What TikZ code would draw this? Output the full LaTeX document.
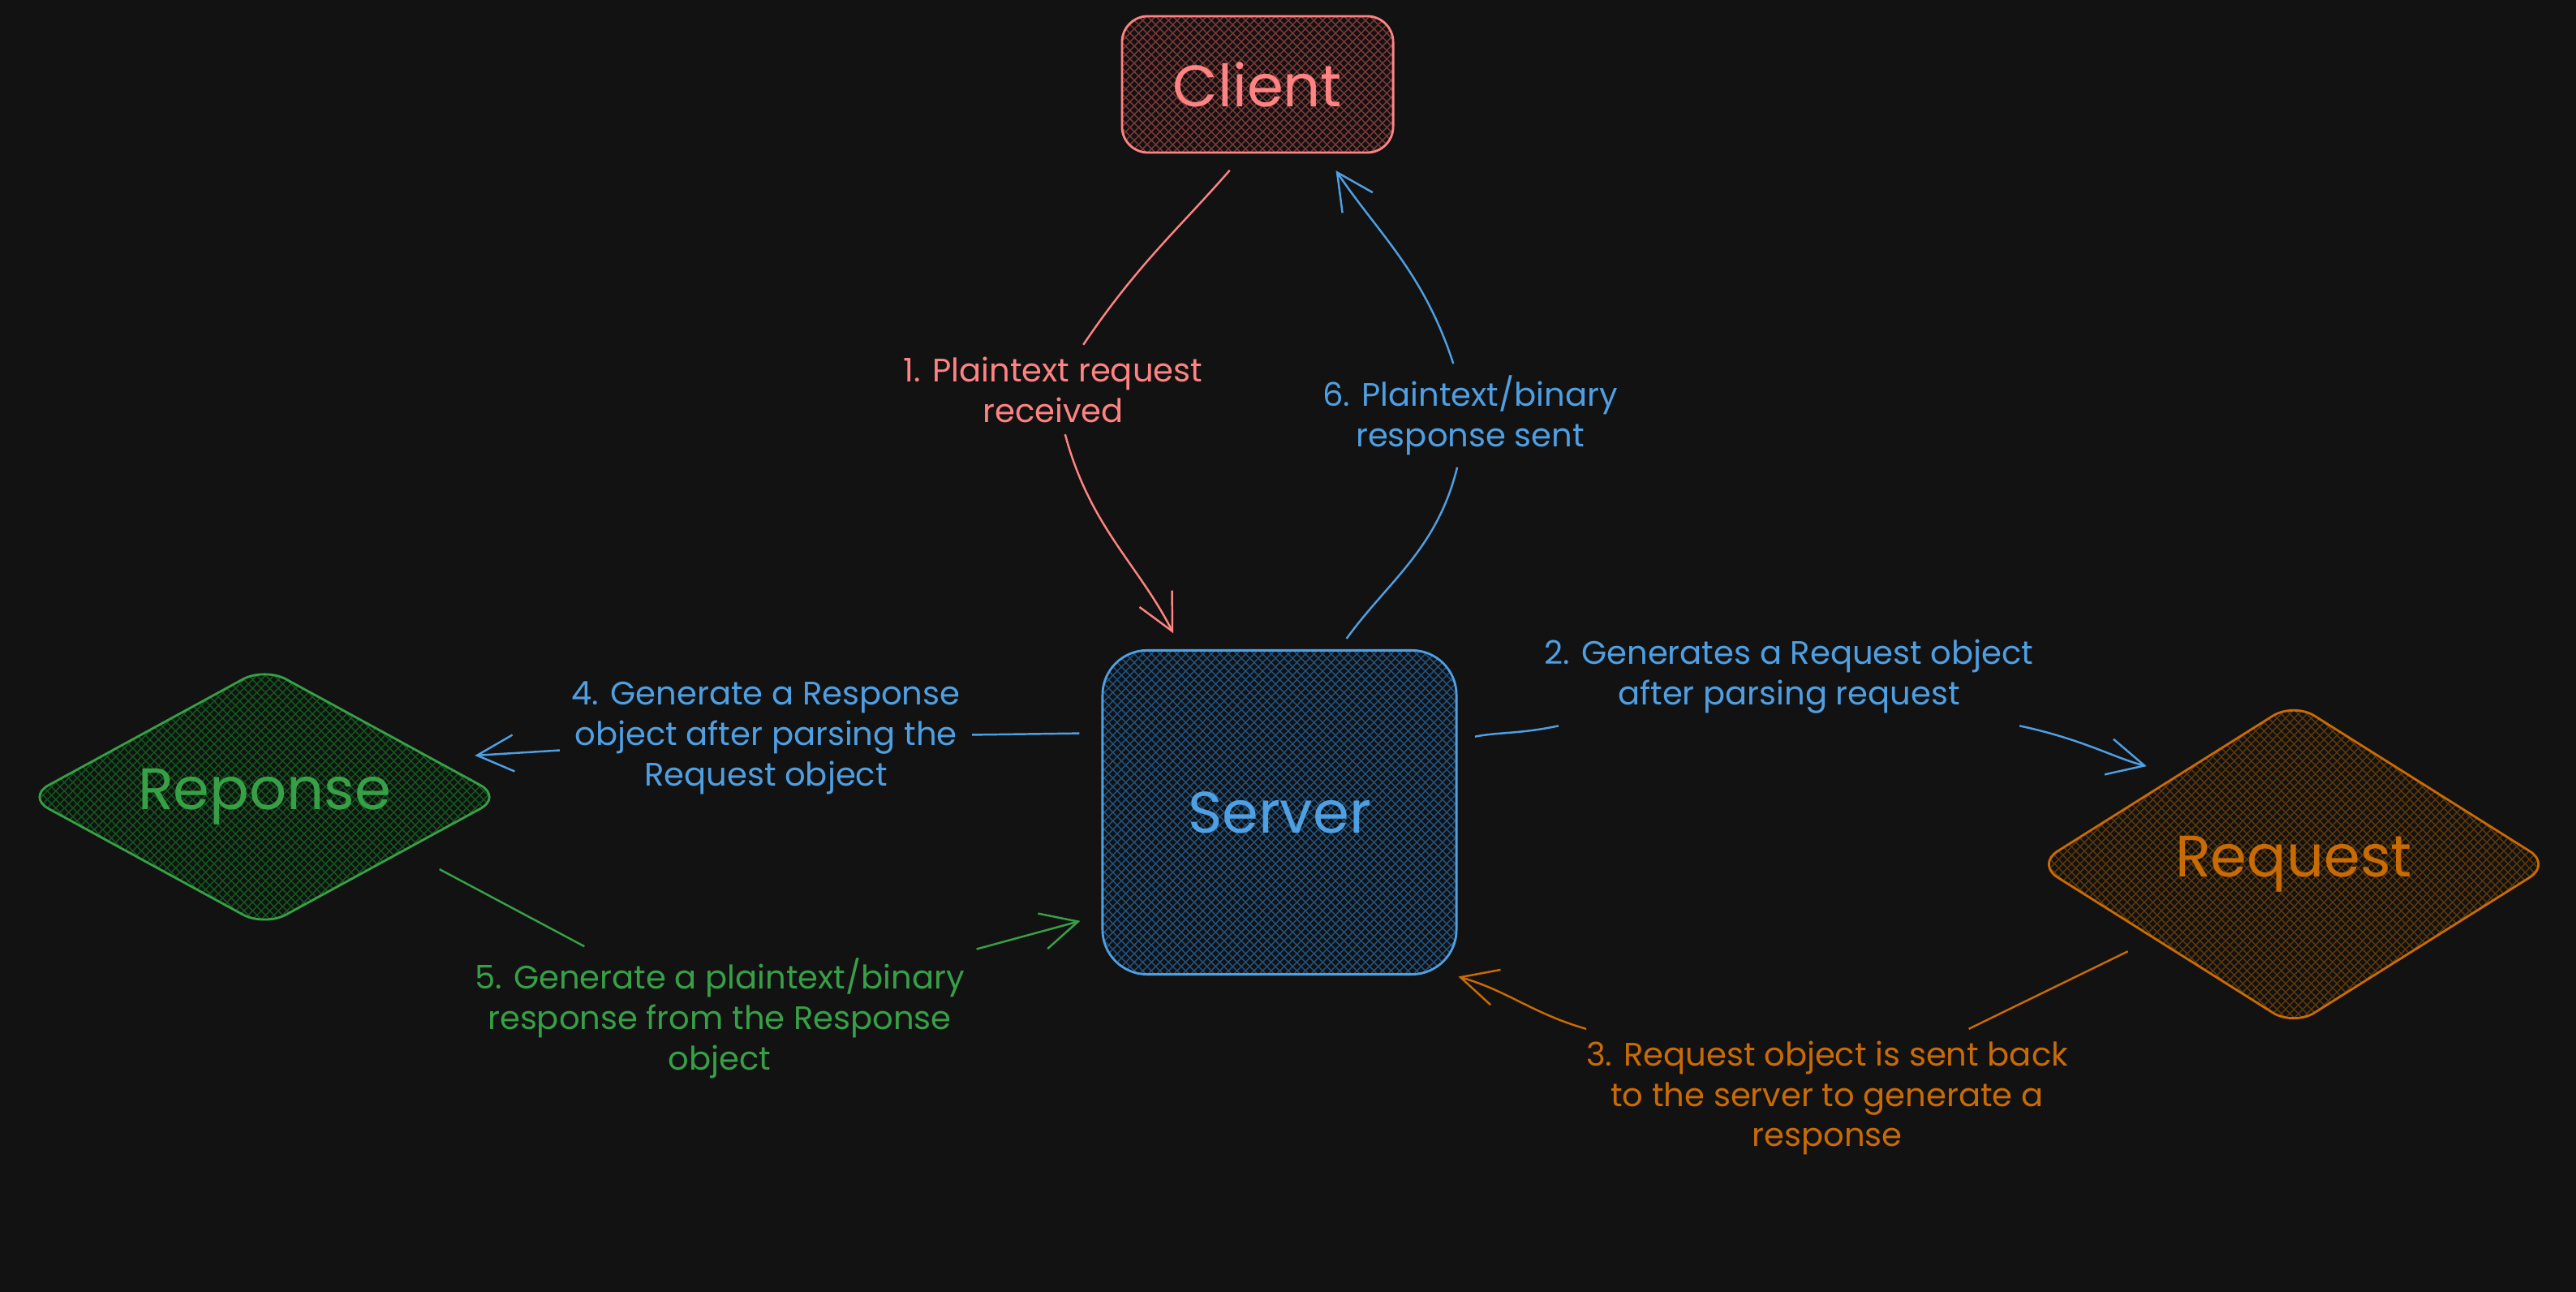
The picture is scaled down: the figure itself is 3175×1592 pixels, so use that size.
\documentclass[tikz,border=0pt]{standalone}
\usepackage{fontspec}
\setmainfont{Poppins}
\usetikzlibrary{shapes.geometric,arrows.meta,patterns}
\definecolor{bg}{HTML}{121212}
\definecolor{redln}{HTML}{FF8383}
\definecolor{redht}{HTML}{803838}
\definecolor{blueln}{HTML}{4F9FE3}
\definecolor{blueht}{HTML}{1F5384}
\definecolor{greenln}{HTML}{37A047}
\definecolor{greenht}{HTML}{105A1C}
\definecolor{orangeln}{HTML}{C96B05}
\definecolor{orangeht}{HTML}{5E3808}

\begin{document}
\begin{tikzpicture}[x=0.01cm,y=0.01cm,
	box/.style={draw, line width=0.8pt, pattern=crosshatch, inner sep=0pt, font=\fontsize{20.5}{24}\selectfont},
	rhomb/.style={diamond, draw, line width=0.8pt, pattern=crosshatch, inner sep=0pt, rounded corners=0.3cm, font=\fontsize{20.5}{24}\selectfont},
	lbl/.style={align=center, inner sep=4pt, font=\fontsize{11.4}{14.2}\selectfont},
	line/.style={line width=0.7pt},
	link/.style={line width=0.7pt, -{Straight Barb[length=0.45cm,width=0.45cm]}}]
	\fill[bg] (0,0) rectangle (3175,1592);
	\useasboundingbox (0,0) rectangle (3175,1592);

	% boxes
	\node[box, draw=redln, text=redln, pattern color=redht, rounded corners=0.32cm,
		minimum width=3.34cm, minimum height=1.68cm] (client) at (1550,1488) {Client};
	\node[box, draw=blueln, text=blueln, pattern color=blueht, rounded corners=0.55cm,
		minimum width=4.36cm, minimum height=3.99cm] (server) at (1577,591) {Server};
	\node[rhomb, draw=greenln, text=greenln, pattern color=greenht, aspect=1.83,
		minimum width=5.86cm, minimum height=3.2cm] (reponse) at (326,610) {Reponse};
	\node[rhomb, draw=orangeln, text=orangeln, pattern color=orangeht, aspect=1.6,
		minimum width=6.34cm, minimum height=3.99cm] (request) at (2827,527) {Request};

	% labels
	\node[lbl, text=redln] (l1) at (1298,1112) {1. Plaintext request\\received};
	\node[lbl, text=blueln] (l2) at (2205,758) {2. Generates a Request object\\after parsing request};
	\node[lbl, text=orangeln] (l3) at (2252,239) {3. Request object is sent back\\to the server to generate a\\response};
	\node[lbl, text=blueln] (l4) at (944,683) {4. Generate a Response\\object after parsing the\\Request object};
	\node[lbl, text=greenln] (l5) at (887,337) {5. Generate a plaintext/binary\\response from the Response\\object};
	\node[lbl, text=blueln] (l6) at (1812,1080) {6. Plaintext/binary\\response sent};

	% arrows
	\draw[line, redln, shorten <=0.27cm] (client.259) to[out=229, in=56] (l1);
	\draw[link, redln, shorten >=0.22cm] (l1) to[out=-75, in=117] (server.121);
	\draw[line, blueln, shorten <=0.22cm] (server.22) to[out=12, in=192] (l2);
	\draw[link, blueln, shorten >=0.4cm] (l2) to[out=-12, in=166] (request.142);
	\draw[line, orangeln, shorten <=0.35cm] (request.208) -- (l3);
	\draw[link, orangeln, shorten >=0.05cm] (l3) to[out=164, in=-16] (server.-43);
	\draw[line, blueln, shorten <=0.27cm] (server.156) -- (l4);
	\draw[link, blueln, shorten >=0.52cm] (l4) -- (reponse.13);
	\draw[line, greenln, shorten <=0.48cm] (reponse.-21) -- (l5);
	\draw[link, greenln, shorten >=0.27cm] (l5) -- (server.210);
	\draw[line, blueln, shorten <=0.16cm] (server.70) to[out=54, in=-104] (l6);
	\draw[link, blueln, shorten >=0.25cm] (l6) to[out=108, in=-56] (client.-46);
\end{tikzpicture}
\end{document}
